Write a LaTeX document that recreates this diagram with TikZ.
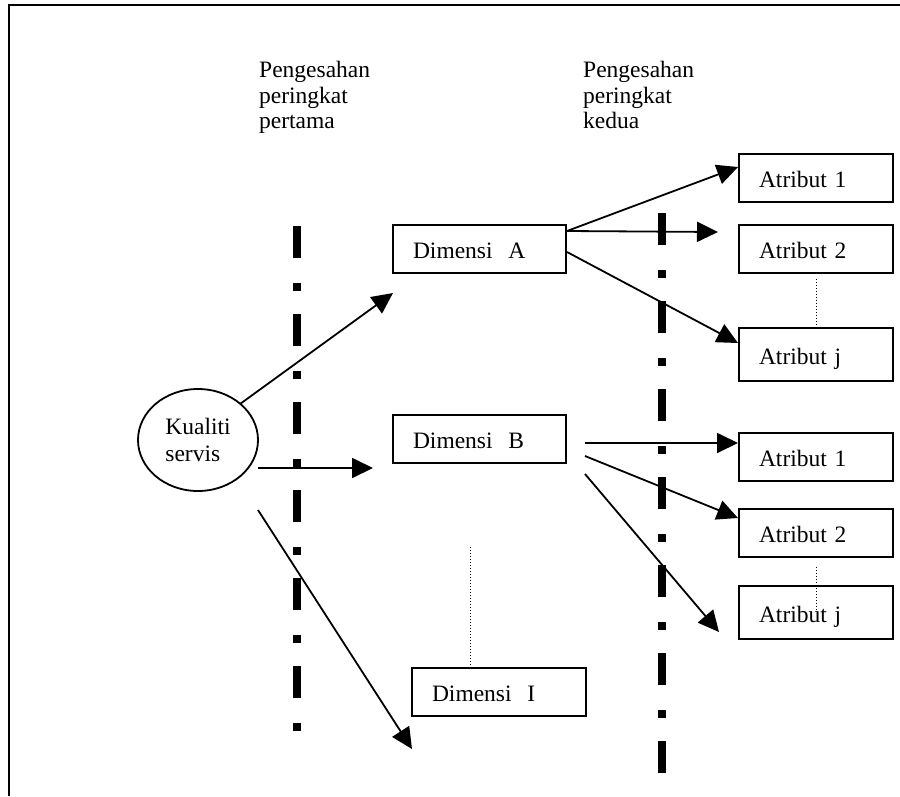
\documentclass[tikz,border=0pt]{standalone}
\usepackage{fontspec}
\setmainfont{Liberation Serif}
\usetikzlibrary{arrows.meta,shapes.geometric}
\begin{document}
\begin{tikzpicture}[x=1pt,y=-1pt,
  txt/.style={font=\fontsize{23.5}{25.5}\selectfont},
  box/.style={draw,line width=1.8pt,inner xsep=20pt,inner ysep=0pt,text height=19pt,text depth=0pt,align=left,anchor=center,font=\fontsize{23.5}{26}\selectfont},
  dimbox/.style={box,text width=133pt,minimum height=48pt},
  atrbox/.style={box,text width=114pt,minimum height=48pt},
  arr/.style={line width=1.8pt,-{Triangle[length=21pt,width=20pt]}},
  ddline/.style={line width=8pt,line cap=butt,dash pattern=on 32pt off 25pt on 8pt off 23pt},
  dots/.style={line width=1pt,dotted},
  frameline/.style={line width=2.2pt}]
\useasboundingbox (0,0) rectangle (900,796);

% frame
\coordinate (fbl) at (9,796);
\coordinate (ftl) at (9,5);
\coordinate (ftr) at (900,5);
\draw[frameline] (fbl) -- (ftl) -- (ftr);

% headings
\node[txt,anchor=north west,inner sep=0pt,align=left] (h1) at (259,61) {Pengesahan\\peringkat\\pertama};
\node[txt,anchor=north west,inner sep=0pt,align=left] (h2) at (583,61) {Pengesahan\\peringkat\\kedua};

% dash-dot separators
\coordinate (v1t) at (297,226);
\coordinate (v1b) at (297,731);
\coordinate (v2t) at (662,213);
\coordinate (v2b) at (662,773);
\draw[ddline] (v1t) -- (v1b);
\draw[ddline] (v2t) -- (v2b);

% nodes
\node[draw,ellipse,line width=1.8pt,minimum width=120pt,minimum height=102pt,inner sep=0pt,align=left,font=\fontsize{23.5}{27}\selectfont] (k) at (198,440) {Kualiti\\servis};

\node[dimbox] (dA) at (479.5,249) {Dimensi\ \ A};
\node[dimbox] (dB) at (479.5,439) {Dimensi\ \ B};
\node[box,text width=134pt,minimum height=48pt] (dI) at (499,692) {Dimensi\ \ I};

\node[atrbox] (a1) at (816,178) {Atribut 1};
\node[atrbox] (a2) at (816,249) {Atribut 2};
\node[atrbox,minimum height=53pt] (aj) at (816,354.5) {Atribut j};
\node[atrbox] (b1) at (816,457) {Atribut 1};
\node[atrbox] (b2) at (816,533) {Atribut 2};
\node[atrbox,minimum height=53pt] (bj) at (816,612.5) {Atribut j};

% arrow end points
\coordinate (kA) at (240,404);
\coordinate (kB) at (258,468);
\coordinate (kI) at (258,510);
\coordinate (inA) at (393,293);
\coordinate (inB) at (373,468);
\coordinate (inI) at (412,749);

\coordinate (oA1) at (567,231);
\coordinate (oA3) at (567,252);
\coordinate (ia1) at (738,167);
\coordinate (ia2) at (718,232);
\coordinate (iaj) at (738,343);

\coordinate (oB1) at (585,443);
\coordinate (oB2) at (585,456);
\coordinate (oB3) at (585,474);
\coordinate (ib1) at (738,443);
\coordinate (ib2) at (738,518);
\coordinate (ibj) at (719,632);

% connectors
\draw[arr] (kA) -- (inA);
\draw[arr] (kB) -- (inB);
\draw[arr] (kI) -- (inI);

\draw[arr] (oA1) -- (ia1);
\draw[arr] (oA1) -- (ia2);
\draw[arr] (oA3) -- (iaj);

\draw[arr] (oB1) -- (ib1);
\draw[arr] (oB2) -- (ib2);
\draw[arr] (oB3) -- (ibj);

% dotted continuation marks
\draw[dots] ([yshift=-5pt]a2.south) -- (aj.north);
\draw[dots] ([yshift=-9pt]b2.south) -- ([yshift=-24pt]bj.north);
\draw[dots] ([xshift=-29pt,yshift=120pt]dI.north) -- ([xshift=-29pt]dI.north);
\end{tikzpicture}
\end{document}
